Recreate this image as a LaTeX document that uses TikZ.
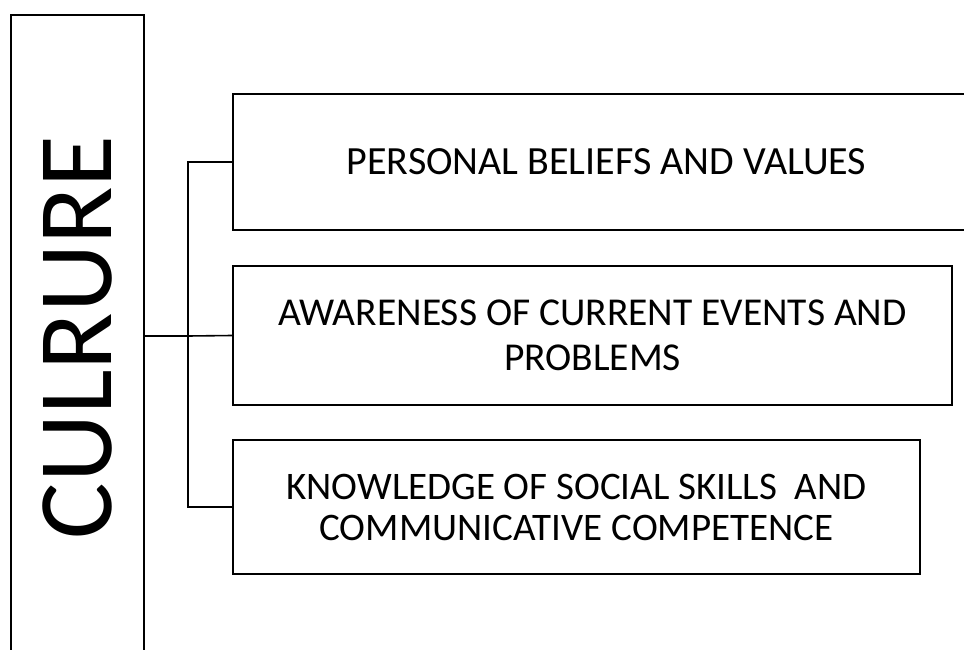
\documentclass[tikz,border=0pt]{standalone}
\usepackage{fontspec}
\setmainfont{Carlito}
\usepackage{graphicx}
\usepackage{xcolor}
\usetikzlibrary{positioning,calc}

\begin{document}
\begin{tikzpicture}[x=1pt, y=-1pt,
		itembox/.style={draw, line width=2pt, align=center, inner sep=0pt},
		conn/.style={line width=1.6pt}]
				% Fix the frame and cut what runs past it
				\useasboundingbox (0,0) rectangle (964,650);
				\clip (0,0) rectangle (964,650);
				
				% Draw the tall title box
				\node[itembox, minimum width=133pt, minimum height=645pt,
					font=\fontsize{106}{110}\selectfont] (culture) at (77.5,337.5) {\rotatebox{90}{CULRURE}};
				
				% Draw the three item boxes
				\node[itembox, minimum width=747pt, minimum height=136pt,
					font=\fontsize{40}{45}\selectfont] (beliefs) at (606.5,162) {PERSONAL BELIEFS AND VALUES};
				\node[itembox, minimum width=719pt, minimum height=139pt,
					font=\fontsize{39.5}{45}\selectfont] (awareness) at (592.5,335.5) {AWARENESS OF CURRENT EVENTS AND\\PROBLEMS};
				\node[itembox, minimum width=687pt, minimum height=134pt,
					font=\fontsize{39}{41}\selectfont] (skills) at (576.5,507) {KNOWLEDGE OF SOCIAL SKILLS~ AND\\COMMUNICATIVE COMPETENCE};
				
				% Draw the bracket connectors
				\coordinate (hub) at (188,336);
				\draw[conn] (hub -| culture.east) -- (hub);
				\draw[conn] (beliefs.west) -- (beliefs.west -| hub) -- (skills.west -| hub) -- (skills.west);
				\draw[conn] (hub) -- (awareness.west);
			\end{tikzpicture}
\end{document}
